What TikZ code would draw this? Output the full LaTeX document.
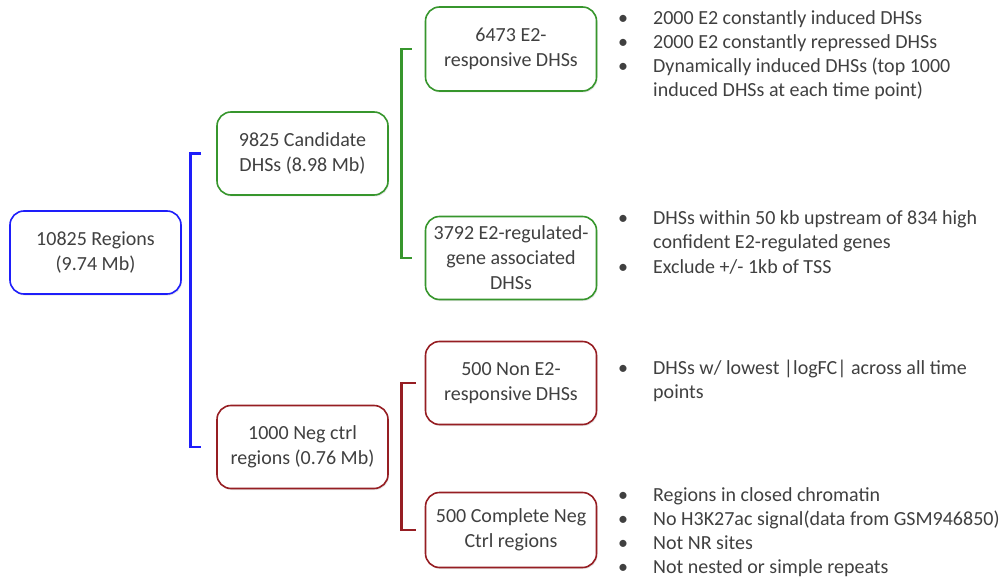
\documentclass[tikz,border=0pt]{standalone}
\usepackage{fontspec}
\setmainfont{Carlito}
\usetikzlibrary{shadows}
\definecolor{boxblue}{RGB}{30,30,250}
\definecolor{boxgreen}{RGB}{55,150,45}
\definecolor{boxred}{RGB}{150,30,35}
\definecolor{txtgray}{RGB}{64,64,64}
\begin{document}
\begin{tikzpicture}[x=1pt, y=-1pt, line cap=round, line join=round, text=txtgray, font=\fontsize{20}{25}\selectfont]
	\tikzset{region/.style={draw, line width=1.6pt, rounded corners=14pt, fill=white, minimum width=171pt, minimum height=83pt, align=center, drop shadow={opacity=0.2, shadow xshift=1pt, shadow yshift=-1.5pt}},
		bracket/.style={line width=2.6pt, line join=miter, line cap=butt},
		notes/.style={anchor=base west, inner sep=0pt, font=\fontsize{20}{24}\selectfont}}
	\useasboundingbox (0,0) rectangle (1008,577);
	% boxes
	\node[region, draw=boxblue] (all) at (95.5,252.5) {10825 Regions\\(9.74 Mb)};
	\node[region, draw=boxgreen] (cand) at (302.5,153.5) {9825 Candidate\\DHSs (8.98 Mb)};
	\node[region, draw=boxred] (neg) at (302.5,447) {1000 Neg ctrl\\regions (0.76 Mb)};
	\node[region, draw=boxgreen, minimum height=84pt] (resp) at (511,49) {6473 E2-\\responsive DHSs};
	\node[region, draw=boxgreen] (gene) at (511,258) {3792 E2-regulated-\\gene associated\\DHSs};
	\node[region, draw=boxred] (nonresp) at (511,383) {500 Non E2-\\responsive DHSs};
	\node[region, draw=boxred, minimum height=75pt] (comp) at (511,530) {500 Complete Neg\\Ctrl regions};
	% brackets
	\draw[bracket, boxblue] ([xshift=-15pt]cand.west) -- ([xshift=-26pt]cand.west) -- ([xshift=-26pt]neg.west) -- ([xshift=-15pt]neg.west);
	\draw[bracket, boxgreen] ([xshift=-13pt]resp.west) -- ([xshift=-23pt]resp.west) -- ([xshift=-23pt]gene.west) -- ([xshift=-13pt]gene.west);
	\draw[bracket, boxred] ([xshift=-9pt]nonresp.west) -- ([xshift=-23pt]nonresp.west) -- ([xshift=-23pt]comp.west) -- ([xshift=-9pt]comp.west);
	% notes
	\node[notes] (respnote) at (618,25) {\begin{tabular}[t]{@{}p{35pt}@{}l@{}}
		\textbullet & 2000 E2 constantly induced DHSs\\
		\textbullet & 2000 E2 constantly repressed DHSs\\
		\textbullet & Dynamically induced DHSs (top 1000\\
		& induced DHSs at each time point)
	\end{tabular}};
	\node[notes] (genenote) at (618,225) {\begin{tabular}[t]{@{}p{35pt}@{}l@{}}
		\textbullet & DHSs within 50 kb upstream of 834 high\\
		& confident E2-regulated genes\\
		\textbullet & Exclude +/- 1kb of TSS
	\end{tabular}};
	\node[notes] (nonrespnote) at (618,374.5) {\begin{tabular}[t]{@{}p{35pt}@{}l@{}}
		\textbullet & DHSs w/ lowest |logFC| across all time\\
		& points
	\end{tabular}};
	\node[notes] (compnote) at (618,501.5) {\begin{tabular}[t]{@{}p{35pt}@{}l@{}}
		\textbullet & Regions in closed chromatin\\
		\textbullet & No H3K27ac signal(data from GSM946850)\\
		\textbullet & Not NR sites\\
		\textbullet & Not nested or simple repeats
	\end{tabular}};
\end{tikzpicture}
\end{document}
